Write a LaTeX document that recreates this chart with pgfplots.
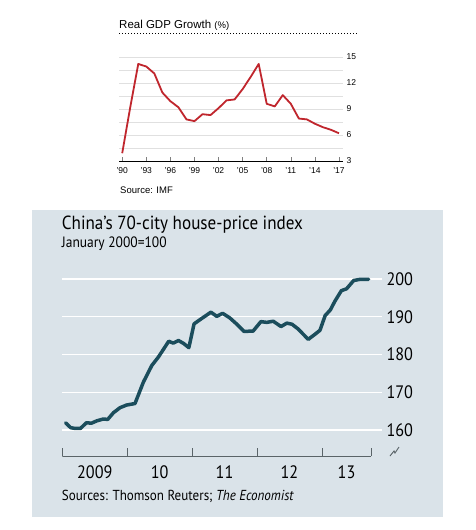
\documentclass[border=0pt]{standalone}
\usepackage{pgfplots}
\pgfplotsset{compat=1.18}
\usepackage{fontspec}
\setmainfont{Liberation Sans}
\newfontfamily\econ[FakeStretch=0.9]{PT Sans}
\definecolor{gdpred}{HTML}{C0262D}
\definecolor{panel}{HTML}{DAE3E9}
\definecolor{econteal}{HTML}{1B4D5C}
\definecolor{tickgray}{HTML}{5A6468}
\begin{document}
\begin{tikzpicture}
\useasboundingbox[fill=white] (0pt,0pt) rectangle (475pt,-530pt);
% ---------- top chart ----------
\node[anchor=base west, inner sep=0pt] at (119pt,-28.3pt) {\fontsize{11.5}{12}\selectfont Real GDP Growth {\fontsize{9.5}{10}\selectfont(\%)}};
\draw[line width=1.3pt, dash pattern=on 1.4pt off 1.6pt] (119pt,-33.5pt) -- (357pt,-33.5pt);
\begin{axis}[
  at={(119pt,-161pt)}, anchor=south west,
  width=224pt, height=104pt, scale only axis,
  xmin=1989.6, xmax=2017.5, ymin=3, ymax=15,
  axis x line*=bottom, axis y line*=right,
  y axis line style={draw=none},
  x axis line style={black, line width=1pt},
  xtick={1990,1993,...,2017}, minor x tick num=2,
  xticklabels={'90,'93,'96,'99,'02,'05,'08,'11,'14,'17},
  tick align=inside, major tick length=4pt, minor tick length=4pt,
  x tick style={gray, line width=0.5pt},
  ytick={3,6,...,15}, minor ytick={4.5,7.5,10.5,13.5},
  y tick style={draw=none},
  ymajorgrids, yminorgrids,
  major grid style={black!12, line width=0.5pt},
  minor grid style={black!12, line width=0.5pt},
  /pgf/number format/assume math mode=true,
  ticklabel style={font=\fontsize{8.5}{9}\selectfont},
  yticklabel style={anchor=west, xshift=0pt},
  xticklabel style={yshift=-3pt},
]
\addplot[gdpred, line width=1.8pt, line join=round] coordinates {
(1990,3.9) (1991,9.2) (1992,14.2) (1993,13.9) (1994,13.1) (1995,10.9)
(1996,9.9) (1997,9.2) (1998,7.8) (1999,7.6) (2000,8.4) (2001,8.3)
(2002,9.1) (2003,10.0) (2004,10.1) (2005,11.3) (2006,12.7) (2007,14.2)
(2008,9.6) (2009,9.3) (2010,10.6) (2011,9.6) (2012,7.9) (2013,7.8)
(2014,7.3) (2015,6.9) (2016,6.6) (2017,6.2)
};
\end{axis}
\node[anchor=base west, inner sep=0pt] at (120pt,-193pt) {\fontsize{9.5}{10}\selectfont Source: IMF};
% ---------- bottom chart ----------
\fill[panel] (31.7pt,-210pt) rectangle (443pt,-517pt);
\node[anchor=base west, inner sep=0pt] at (61.7pt,-229.3pt) {\econ\fontsize{19}{20}\selectfont China’s 70-city house-price index};
\node[anchor=base west, inner sep=0pt] at (61.7pt,-247.3pt) {\econ\fontsize{15}{16}\selectfont January 2000=100};
\begin{axis}[
  at={(62.3pt,-456pt)}, anchor=south west,
  width=319.7pt, height=182.7pt, scale only axis,
  xmin=2009, xmax=2013.926, ymin=153.1, ymax=201.5,
  axis x line*=bottom, axis y line*=right,
  axis line style={draw=none},
  xtick={2009,2010,2011,2012,2013,2013.76},
  xticklabels={,,,,,},
  x tick style={tickgray, line width=0.8pt},
  tick align=inside, major tick length=7.7pt,
  extra x ticks={2009.5,2010.5,2011.5,2012.5,2013.38},
  extra x tick labels={2009,10,11,12,13},
  extra x tick style={major tick length=0pt, xticklabel style={yshift=-6pt}},
  ytick={160,170,...,200},
  y tick style={draw=none},
  ymajorgrids,
  major grid style={white, line width=1.3pt},
  /pgf/number format/assume math mode=true,
  ticklabel style={font=\econ\fontsize{18}{18}\selectfont},
  yticklabel style={anchor=west, xshift=1pt},
]
\draw[tickgray, line width=0.8pt] (axis cs:2009,153.1) -- (axis cs:2013.76,153.1);
\addplot[econteal, line width=3.5pt, line join=round, line cap=round] coordinates {
(2009.05,161.9) (2009.13,160.6) (2009.20,160.4) (2009.28,160.4) (2009.37,161.9)
(2009.45,161.8) (2009.53,162.4) (2009.63,162.9) (2009.70,162.8) (2009.79,164.6)
(2009.89,165.9) (2009.99,166.6) (2010.12,167.0) (2010.25,172.7) (2010.38,177.1)
(2010.48,179.3) (2010.64,183.5) (2010.71,183.0) (2010.79,183.7) (2010.87,182.9)
(2010.95,181.8) (2011.03,188.1) (2011.12,189.2) (2011.29,191.2) (2011.38,190.1)
(2011.47,190.9) (2011.58,189.7) (2011.69,188.0) (2011.80,186.1) (2011.94,186.2)
(2012.06,188.7) (2012.15,188.5) (2012.25,188.8) (2012.37,187.4) (2012.46,188.3)
(2012.54,188.0) (2012.63,186.8) (2012.79,184.0) (2012.89,185.3) (2012.97,186.4)
(2013.05,190.3) (2013.13,191.8) (2013.20,194.1) (2013.30,196.9) (2013.38,197.4)
(2013.49,199.6) (2013.59,199.9) (2013.72,199.9)
};
\end{axis}
\draw[tickgray, line width=0.9pt] (390pt,-456pt) -- (394pt,-451pt) -- (395pt,-453pt) -- (399pt,-447pt);
\node[anchor=base west, inner sep=0pt] at (61.7pt,-500pt) {\econ\fontsize{14.5}{15}\selectfont Sources: Thomson Reuters; \textit{The Economist}};
\end{tikzpicture}
\end{document}
